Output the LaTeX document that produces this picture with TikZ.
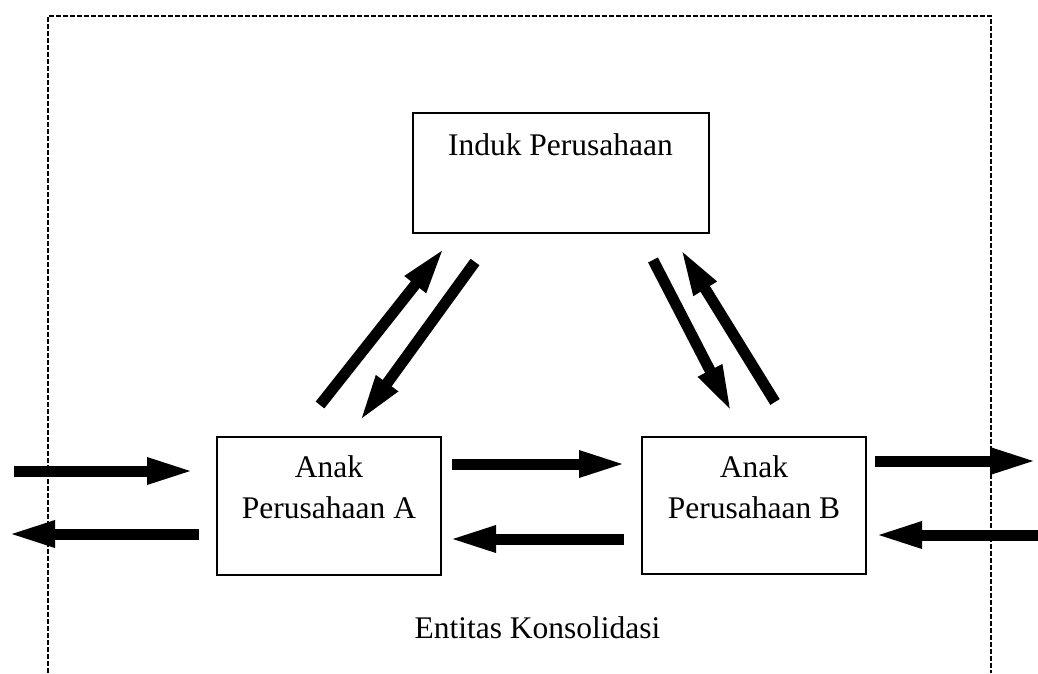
\documentclass[tikz,border=0pt]{standalone}
\usepackage{fontspec}
\setmainfont{Liberation Serif}
\usetikzlibrary{arrows.meta,calc}

\tikzset{
  entity/.style={draw=black, line width=2pt, fill=white, rectangle, inner sep=0pt, outer sep=0pt},
  lbl/.style={font=\fontsize{31.5}{38}\selectfont, inner sep=0pt, anchor=base},
  flow/.style={draw=black, line width=11pt,
    -{Triangle[length=48pt, width=24pt]}},
  scope border/.style={draw=black, line width=2.3pt, dash pattern=on 5pt off 2pt}
}

\begin{document}
\begin{tikzpicture}[x=1pt, y=-1pt]
  \useasboundingbox (0,0) rectangle (1038,673);
  \clip (0,0) rectangle (1038,673);

  % consolidated entity boundary (open at the bottom)
  \coordinate (bl) at (48,673);
  \coordinate (tl) at (48,16);
  \coordinate (tr) at (991,16);
  \coordinate (br) at (991,673);
  \draw[scope border] (bl) -- (tl) -- (tr) -- (br);

  % companies
  \node[entity, minimum width=296pt, minimum height=120pt] (induk) at (560.5,173) {};
  \node[entity, minimum width=224pt, minimum height=138pt] (anakA) at (329,506) {};
  \node[entity, minimum width=224pt, minimum height=137pt] (anakB) at (754,505.5) {};

  \node[lbl] (indukT) at ($(induk.north)+(0,42)$) {Induk Perusahaan};
  \node[lbl] (anakA1) at ($(anakA.north)+(0,40)$) {Anak};
  \node[lbl] (anakA2) at ($(anakA.north)+(0,81)$) {Perusahaan A};
  \node[lbl] (anakB1) at ($(anakB.north)+(0,40)$) {Anak};
  \node[lbl] (anakB2) at ($(anakB.north)+(0,81)$) {Perusahaan B};
  \node[lbl] (entitas) at (537.5,638) {Entitas Konsolidasi};

  % end points of the transaction flows
  \coordinate (extInL)  at (14,471);   \coordinate (aInL)   at (195,471);
  \coordinate (aOutL)   at (199,534);  \coordinate (extOutL) at (7,534);
  \coordinate (aToB1)   at (452,464);  \coordinate (aToB2)  at (627,464);
  \coordinate (bToA1)   at (624,539);  \coordinate (bToA2)  at (448,539);
  \coordinate (bOutR)   at (875,461);  \coordinate (extOutR) at (1038,461);
  \coordinate (extInR)  at (1050,535); \coordinate (bInR)   at (874,535);
  \coordinate (aUp1)    at (320,405);  \coordinate (aUp2)   at (445,247);
  \coordinate (iDownA1) at (475,262);  \coordinate (iDownA2) at (359,422);
  \coordinate (iDownB1) at (653,260);  \coordinate (iDownB2) at (732,413);
  \coordinate (bUp1)    at (775,402);  \coordinate (bUp2)   at (680,248);

  % flows
  \draw[flow] (extInL) -- (aInL);
  \draw[flow] (aOutL) -- (extOutL);
  \draw[flow] (aToB1) -- (aToB2);
  \draw[flow] (bToA1) -- (bToA2);
  \draw[flow] (bOutR) -- (extOutR);
  \draw[flow] (extInR) -- (bInR);
  \draw[flow] (aUp1) -- (aUp2);
  \draw[flow] (iDownA1) -- (iDownA2);
  \draw[flow] (iDownB1) -- (iDownB2);
  \draw[flow] (bUp1) -- (bUp2);
\end{tikzpicture}
\end{document}
